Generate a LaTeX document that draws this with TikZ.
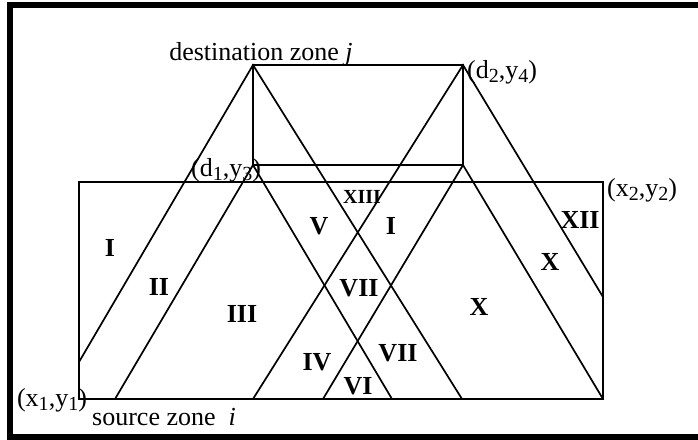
\documentclass[tikz,border=0pt]{standalone}
\usepackage{fontspec}
\setmainfont{Liberation Serif}
\newcommand{\mysub}[1]{\raisebox{-0.18em}{\fontsize{20}{22}\selectfont #1}}
\begin{document}
\begin{tikzpicture}[x=1pt,y=-1pt,
  ln/.style={line width=1.7pt},
  box/.style={line width=1.9pt},
  num/.style={font=\fontsize{26}{28}\selectfont\bfseries, inner sep=0pt},
  smallnum/.style={font=\fontsize{20}{22}\selectfont\bfseries, inner sep=0pt},
  lab/.style={font=\fontsize{26}{28}\selectfont, inner sep=0pt}]
\useasboundingbox (0,0) rectangle (698,439);
\begin{scope}
\clip (0,0) rectangle (698,439);
\draw[line width=6pt] (10,5) rectangle (720,436.5);
\end{scope}
% zone corners
\coordinate (A) at (253,65);
\coordinate (B) at (463,65);
\coordinate (C) at (253,165);
\coordinate (D) at (463,165);
\coordinate (S1) at (79,399);
\coordinate (S2) at (603,182);
% line end points
\coordinate (a1) at (79,362);
\coordinate (a2) at (462,399);
\coordinate (b1) at (253,399);
\coordinate (b2) at (603,297);
\coordinate (c1) at (115,399);
\coordinate (c2) at (392,399);
\coordinate (d1) at (323,399);
\coordinate (d2) at (603,399);
\draw[box] (A) rectangle (D);
\draw[box] (S1) rectangle (S2);
\draw[ln] (a1) -- (A) -- (a2);
\draw[ln] (b1) -- (B) -- (b2);
\draw[ln] (c1) -- (C) -- (c2);
\draw[ln] (d1) -- (D) -- (d2);
% texts
\node[lab, anchor=base] (dest) at (261,60) {destination zone \textit{j}};
\node[lab, anchor=base west] (src) at (92,425) {source zone\ \ \textit{i}};
\node[lab, anchor=base] (ld1) at (226,176) {(d\mysub{1},y\mysub{3})};
\node[lab, anchor=base west] (ld2) at (467,78) {(d\mysub{2},y\mysub{4})};
\node[lab, anchor=base west] (lx2) at (607,196) {(x\mysub{2},y\mysub{2})};
\node[lab, anchor=base] (lx1) at (52,406) {(x\mysub{1},y\mysub{1})};
% region numerals
\node[num] (r1) at (110,248) {I};
\node[num] (r2) at (159,287) {II};
\node[num] (r3) at (242,314) {III};
\node[num] (r4) at (317,362) {IV};
\node[num] (r5) at (319,226) {V};
\node[num] (r6) at (358,386) {VI};
\node[num] (r7a) at (359,288) {VII};
\node[num] (r7b) at (398,353) {VII};
\node[num] (r1b) at (391,226) {I};
\node[smallnum] (r13) at (362,197) {XIII};
\node[num] (r12) at (580,220) {XII};
\node[num] (r10a) at (550,262) {X};
\node[num] (r10b) at (479,307) {X};
\end{tikzpicture}
\end{document}
